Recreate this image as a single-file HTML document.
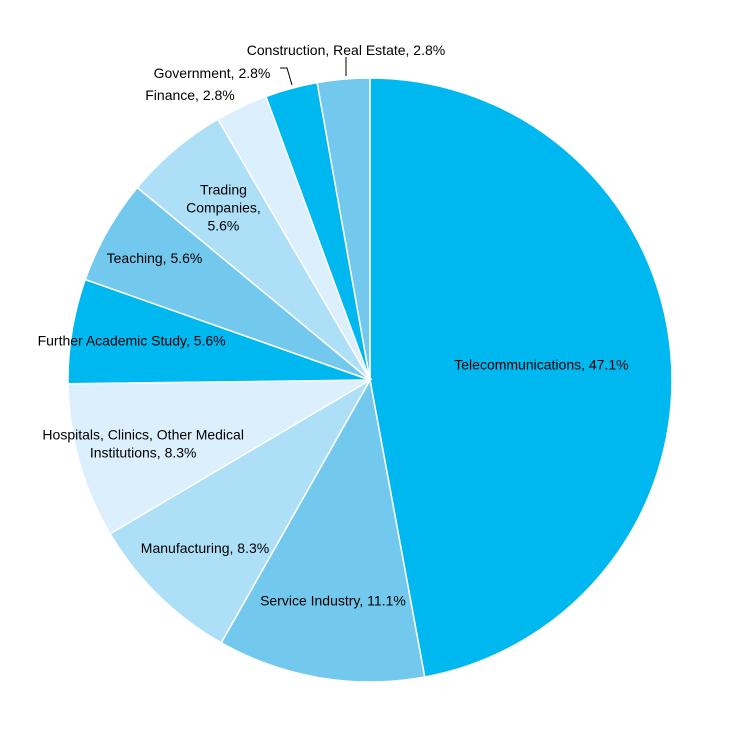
<!DOCTYPE html>
<html><head><meta charset="utf-8"><style>
html,body{margin:0;padding:0;background:#fff;width:740px;height:740px;overflow:hidden}
text{font-family:"Liberation Sans",Arial,sans-serif;font-size:14px;fill:#000}
</style></head><body>
<svg id="chart" width="740" height="740" viewBox="0 0 740 740"></svg>
<script>
const categories=["Telecommunications","Service Industry","Manufacturing","Hospitals, Clinics, Other Medical Institutions","Further Academic Study","Teaching","Trading Companies","Finance","Government","Construction, Real Estate"];
const values=[47.1,11.1,8.3,8.3,5.6,5.6,5.6,2.8,2.8,2.8];
const valueLabels=["47.1%","11.1%","8.3%","8.3%","5.6%","5.6%","5.6%","2.8%","2.8%","2.8%"];
const colors=["#00b8f0","#73c8ee","#addff7","#dbeffc","#00b8f0","#73c8ee","#addff7","#dbeffc","#00b8f0","#73c8ee"];
const cx=370,cy=380,R=302;
const svg=document.getElementById('chart');
const NS='http://www.w3.org/2000/svg';
const total=values.reduce((a,b)=>a+b,0);
function pt(a,r){return [cx+r*Math.sin(a),cy-r*Math.cos(a)];}
let acc=0;
const mids=[];
values.forEach((v,i)=>{
  const a0=acc/total*2*Math.PI; acc+=v; const a1=acc/total*2*Math.PI;
  const p0=pt(a0,R),p1=pt(a1,R);
  const large=(a1-a0)>Math.PI?1:0;
  const p=document.createElementNS(NS,'path');
  p.setAttribute('d',`M${cx},${cy}L${p0[0]},${p0[1]}A${R},${R} 0 ${large} 1 ${p1[0]},${p1[1]}Z`);
  p.setAttribute('fill',colors[i]);p.setAttribute('stroke','#fff');p.setAttribute('stroke-width','1.5');
  
  
  svg.appendChild(p);
  mids.push((a0+a1)/2);
});
// label layout: [anchor-ish offsets] lines per slice
const lines=[
 [categories[0]+",  "+valueLabels[0]],
 [categories[1]+",  "+valueLabels[1]],
 [categories[2]+",  "+valueLabels[2]],
 ["Hospitals, Clinics, Other Medical","Institutions,  "+valueLabels[3]],
 [categories[4]+",  "+valueLabels[4]],
 [categories[5]+",  "+valueLabels[5]],
 ["Trading","Companies,",valueLabels[6]],
 [categories[7]+",  "+valueLabels[7]],
 [categories[8]+",  "+valueLabels[8]],
 ["Construction,  Real Estate,  "+valueLabels[9]]
];
const radii=[0.57,0.74,0.78,0.78,0.8,0.82,0.75,0,0,0];
const fixed={7:[190,95],8:[212,73],9:[346,50]};
lines.forEach((ls,i)=>{
  let x,y;
  if(fixed[i]){[x,y]=fixed[i];}
  else{const p=pt(mids[i],R*radii[i]);x=p[0];y=p[1];}
  const t=document.createElementNS(NS,'text');
  t.setAttribute('text-anchor','middle');
  
  
  const y0=y-(ls.length-1)*9+5;
  ls.forEach((l,k)=>{const s=document.createElementNS(NS,'tspan');s.setAttribute('x',x);s.setAttribute('y',y0+k*18);s.textContent=l;t.appendChild(s);});
  svg.appendChild(t);
});
// leader lines
[[ "M346,57 L346,76" ],[ "M280,68 L287,68 L292,85" ]].forEach((d,k)=>{
  const l=document.createElementNS(NS,'path');l.setAttribute('d',d[0]);l.setAttribute('stroke','#000');l.setAttribute('fill','none');l.setAttribute('stroke-width','1');
  
  
  svg.appendChild(l);
});
</script>
</body></html>
